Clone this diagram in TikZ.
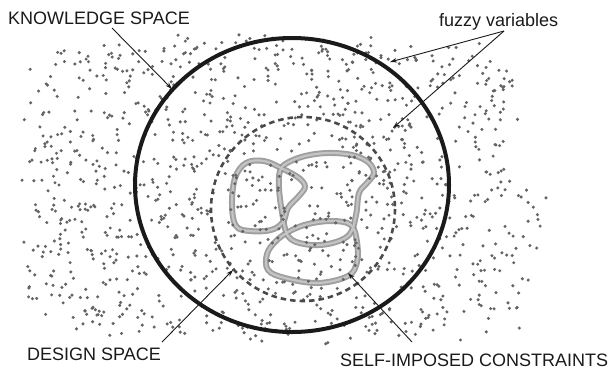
\documentclass[tikz,border=0pt]{standalone}
\usepackage{fontspec}
\setmainfont{Liberation Sans}
\usetikzlibrary{arrows.meta}
\definecolor{ink}{HTML}{1A1A1A}
\definecolor{dotc}{HTML}{646464}
\definecolor{dashc}{HTML}{4A4A4A}
\definecolor{loopout}{HTML}{8E8E8E}
\definecolor{loopin}{HTML}{C4C4C4}
\begin{document}
\begin{tikzpicture}[x=1pt,y=-1pt,
  lbl/.style={font=\fontsize{18}{20}\selectfont, text=ink, inner sep=0pt, anchor=base west},
  leader/.style={draw=ink, line width=0.9pt, -{Stealth[length=7pt,width=4.5pt]}},
  outerset/.style={draw=ink, line width=4pt},
  designset/.style={draw=dashc, line width=2.6pt, dash pattern=on 5.5pt off 4pt},
  tubeout/.style={draw=loopout, line width=6pt, opacity=0.85},
  tubein/.style={draw=loopin, line width=2.2pt},
  fuzzydot/.style={fill=dotc}
]
\useasboundingbox (0,0) rectangle (609,370);

% constraint loops
\foreach \st in {tubeout,tubein}{
  \draw[\st] plot[smooth cycle, tension=0.6] coordinates {(246,163) (264,161) (283,169) (299,178) (305,187) (298,197) (288,208) (283,222) (271,230) (250,231) (236,226) (232,205) (235,178)};
  \draw[\st] plot[smooth cycle, tension=0.6] coordinates {(287,163) (305,156) (328,153) (352,155) (368,162) (374,173) (367,183) (359,193) (356,215) (349,235) (328,244) (304,244) (288,236) (282,212) (279,188) (280,171)};
  \draw[\st] plot[smooth cycle, tension=0.6] coordinates {(290,231) (308,224) (332,221) (351,225) (357,242) (357,262) (348,276) (318,283) (285,278) (268,270) (267,254) (276,241)};
}

% fuzzy variables (dots)
\pgfmathsetseed{4242}
\foreach \i in {1,...,1500}{
  \pgfmathsetmacro\px{15+550*rnd}
  \pgfmathsetmacro\py{28+318*rnd}
  \pgfmathsetmacro\ax{\px<290 ? 272 : (\py>185 ? 262 : 238)}
  \pgfmathsetmacro\v{abs((\px-290)/\ax)^6+abs((\py-188)/158)^6}
  \pgfmathsetmacro\t{1-0.5*rnd}
  \ifdim\v pt<\t pt\relax \fill[fuzzydot] (\px,\py) circle (1.7pt);\fi
}

% sets
\draw[outerset] (292,185) ellipse [x radius=157, y radius=147];
\draw[designset] (303,209) circle [radius=92];

% labels
\node[lbl] (ks) at (8,24) {KNOWLEDGE SPACE};
\node[lbl] (fv) at (439,26) {fuzzy variables};
\node[lbl] (ds) at (27,360) {DESIGN SPACE};
\node[lbl] (sc) at (340,366) {SELF-IMPOSED CONSTRAINTS};

% leader coordinates
\coordinate (ksA) at (112,28);
\coordinate (ksB) at (172,89);
\coordinate (fvA) at (504,31);
\coordinate (fvB) at (390,62);
\coordinate (fvC) at (393,128);
\coordinate (dsA) at (162,342);
\coordinate (dsB) at (233,270);
\coordinate (scA) at (412,342);
\coordinate (scB) at (348,273);

\draw[leader] (ksA) -- (ksB);
\draw[leader] (fvA) -- (fvB);
\draw[leader] (fvA) -- (fvC);
\draw[leader] (dsA) -- (dsB);
\draw[leader] (scA) -- (scB);
\end{tikzpicture}
\end{document}
